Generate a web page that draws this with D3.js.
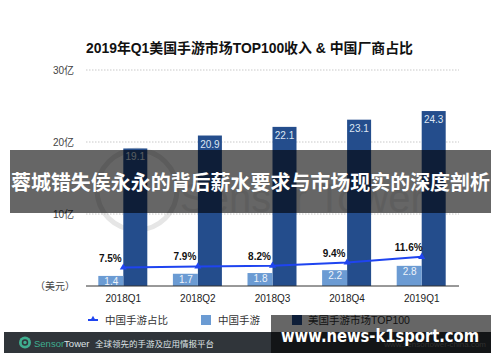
<!DOCTYPE html>
<html>
<head>
<meta charset="utf-8">
<script src="https://cdn.jsdelivr.net/npm/d3@7"></script>
<style>
  body { margin: 0; background: #fff; }
  svg { display: block; font-family: "Liberation Sans", "Noto Sans CJK SC", sans-serif; }
</style>
</head>
<body>
<svg id="chart" width="500" height="362"></svg>
<script>
const quarters = ["2018Q1", "2018Q2", "2018Q3", "2018Q4", "2019Q1"];
const chinaRevenue = [1.4, 1.7, 1.8, 2.2, 2.8];
const usTop100 = [19.1, 20.9, 22.1, 23.1, 24.3];
const chinaShare = [7.5, 7.9, 8.2, 9.4, 11.6];
const yTicks = [10, 20, 30];
const yTickLabels = ["10亿", "20亿", "30亿"];

const svg = d3.select("#chart");

// scales
const x = d3.scaleBand().domain(quarters).range([86, 459]);
const y = d3.scaleLinear().domain([0, 30]).range([286, 70]);
const y2 = d3.scaleLinear().domain([0, 100]).range([287, 27]);

// title
svg.append("text")
  .attr("x", 86).attr("y", 53)
  .attr("font-size", 14).attr("font-weight", "bold").attr("fill", "#111")
  .attr("textLength", 327).attr("lengthAdjust", "spacingAndGlyphs")
  .text("2019年Q1美国手游市场TOP100收入 & 中国厂商占比");

// faint SensorTower watermark
svg.append("circle")
  .attr("cx", 137).attr("cy", 190).attr("r", 40)
  .attr("fill", "none").attr("stroke", "#e6e6e6").attr("stroke-width", 5);
svg.append("text")
  .attr("x", 180).attr("y", 212)
  .attr("font-size", 40).attr("fill", "#ececec")
  .text("Sensor Tower");

// grid + tick labels
svg.append("g").selectAll("line")
  .data(yTicks).join("line")
  .attr("x1", 86).attr("x2", 459)
  .attr("y1", d => y(d)).attr("y2", d => y(d))
  .attr("stroke", "#bbb").attr("stroke-width", 0.8)
  .attr("stroke-dasharray", "1.5,1.5");
svg.append("g").selectAll("text")
  .data(yTicks).join("text")
  .attr("x", 74).attr("y", d => y(d) + 4)
  .attr("text-anchor", "end").attr("font-size", 10).attr("fill", "#444")
  .text((d, i) => yTickLabels[i]);
svg.append("text")
  .attr("x", 75).attr("y", 290)
  .attr("text-anchor", "end").attr("font-size", 10).attr("fill", "#444")
  .text("（美元）");

// bars
const bw = 25;
svg.append("g").selectAll("rect")
  .data(usTop100).join("rect")
  .attr("x", (d, i) => x(quarters[i]) + x.bandwidth() / 2)
  .attr("y", d => y(d)).attr("width", bw - 1)
  .attr("height", d => y(0) - y(d))
  .attr("fill", "#244d8c");
svg.append("g").selectAll("rect")
  .data(chinaRevenue).join("rect")
  .attr("x", (d, i) => x(quarters[i]) + x.bandwidth() / 2 - bw)
  .attr("y", d => y(d)).attr("width", bw)
  .attr("height", d => y(0) - y(d))
  .attr("fill", "#6b9bd3");

// bar labels
svg.append("g").selectAll("text")
  .data(usTop100).join("text")
  .attr("x", (d, i) => x(quarters[i]) + x.bandwidth() / 2 + 12)
  .attr("y", d => y(d) + 12)
  .attr("text-anchor", "middle").attr("font-size", 10).attr("fill", "#dde6f3")
  .text(d => d.toFixed(1));
svg.append("g").selectAll("text")
  .data(chinaRevenue).join("text")
  .attr("x", (d, i) => x(quarters[i]) + x.bandwidth() / 2 - 12)
  .attr("y", d => y(d) + 9)
  .attr("text-anchor", "middle").attr("font-size", 10).attr("fill", "#eef3fa")
  .text(d => d.toFixed(1));

// baseline
svg.append("line")
  .attr("x1", 86).attr("x2", 459).attr("y1", y(0)).attr("y2", y(0))
  .attr("stroke", "#333").attr("stroke-width", 1);

// x axis labels
svg.append("g").selectAll("text")
  .data(quarters).join("text")
  .attr("x", d => x(d) + x.bandwidth() / 2)
  .attr("y", 302)
  .attr("text-anchor", "middle").attr("font-size", 10).attr("fill", "#222")
  .text(d => d);

// share line
const line = d3.line()
  .x((d, i) => x(quarters[i]) + x.bandwidth() / 2)
  .y(d => y2(d));
svg.append("path")
  .datum(chinaShare)
  .attr("d", line)
  .attr("fill", "none").attr("stroke", "#1f44f0").attr("stroke-width", 2);
svg.append("g").selectAll("path")
  .data(chinaShare).join("path")
  .attr("transform", (d, i) => `translate(${x(quarters[i]) + x.bandwidth() / 2},${y2(d)})`)
  .attr("d", d3.symbol(d3.symbolTriangle, 22))
  .attr("fill", "#1f44f0");
svg.append("g").selectAll("text")
  .data(chinaShare).join("text")
  .attr("x", (d, i) => x(quarters[i]) + x.bandwidth() / 2 - 13)
  .attr("y", d => y2(d) - 6)
  .attr("text-anchor", "middle").attr("font-size", 10).attr("font-weight", "bold")
  .attr("fill", "#111")
  .text(d => d.toFixed(1) + "%");

// legend
const lg = svg.append("g").attr("font-size", 10.5).attr("fill", "#333");
lg.append("line").attr("x1", 88).attr("x2", 98).attr("y1", 320).attr("y2", 320)
  .attr("stroke", "#1f44f0").attr("stroke-width", 2);
lg.append("path").attr("transform", "translate(93,319)")
  .attr("d", d3.symbol(d3.symbolTriangle, 14)).attr("fill", "#1f44f0");
lg.append("text").attr("x", 105).attr("y", 324).text("中国手游占比");
lg.append("rect").attr("x", 201).attr("y", 315).attr("width", 10).attr("height", 10).attr("fill", "#6b9bd3");
lg.append("text").attr("x", 218).attr("y", 324).text("中国手游");
lg.append("rect").attr("x", 292).attr("y", 315).attr("width", 10).attr("height", 10).attr("fill", "#244d8c");
lg.append("text").attr("x", 308).attr("y", 324).text("美国手游市场TOP100");

// footer bar
svg.append("rect").attr("x", 4).attr("y", 332).attr("width", 487).attr("height", 21).attr("fill", "#30353a");
svg.append("circle").attr("cx", 25).attr("cy", 342.5).attr("r", 6).attr("fill", "#3fae8f");
svg.append("circle").attr("cx", 25).attr("cy", 342.5).attr("r", 2.5).attr("fill", "none")
  .attr("stroke", "#30353a").attr("stroke-width", 1.5);
const ft = svg.append("text").attr("x", 34).attr("y", 346.5).attr("font-size", 9.5);
ft.append("tspan").attr("fill", "#3fae8f").text("Sensor");
ft.append("tspan").attr("fill", "#dfe3e6").text("Tower");
svg.append("text").attr("x", 95).attr("y", 346.5).attr("font-size", 8.5).attr("fill", "#dfe3e6")
  .text("全球领先的手游及应用情报平台");
svg.append("text").attr("x", 486).attr("y", 347).attr("text-anchor", "end")
  .attr("font-size", 8).attr("fill", "#777").text("www.sensortower-china.com");

// overlay banners
svg.append("rect").attr("x", 10).attr("y", 150).attr("width", 481).attr("height", 63)
  .attr("fill", "rgba(0,0,0,0.6)");
svg.append("text").attr("x", 11).attr("y", 190)
  .attr("font-size", 20).attr("font-weight", "bold").attr("fill", "#fff")
  .attr("font-family", "Noto Sans CJK SC, sans-serif")
  .attr("textLength", 479).attr("lengthAdjust", "spacingAndGlyphs")
  .text("蓉城错失侯永永的背后薪水要求与市场现实的深度剖析");
svg.append("rect").attr("x", 271).attr("y", 315).attr("width", 220).attr("height", 38)
  .attr("fill", "rgba(0,0,0,0.6)");
svg.append("text").attr("x", 281).attr("y", 342)
  .attr("font-size", 18).attr("font-weight", "bold").attr("fill", "#fff")
  .attr("font-family", "DejaVu Sans, sans-serif")
  .attr("textLength", 198).attr("lengthAdjust", "spacingAndGlyphs")
  .text("www.news-k1sport.com");
</script>
</body>
</html>
